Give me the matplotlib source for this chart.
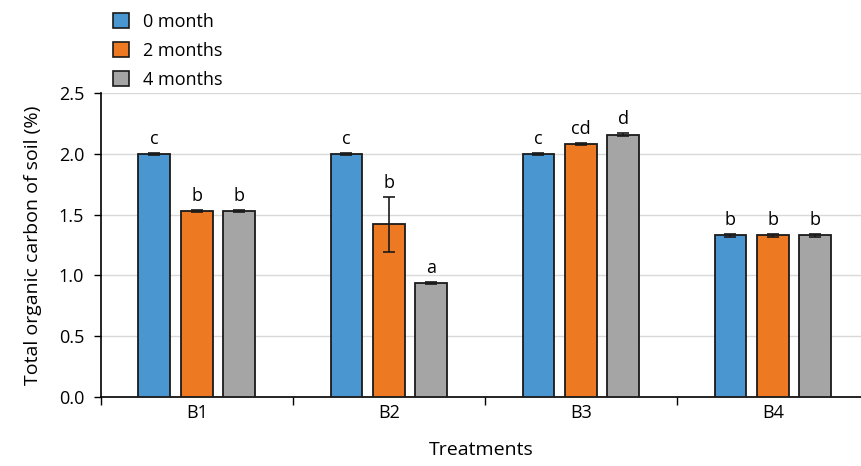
import numpy as np
import matplotlib.pyplot as plt
from matplotlib.patches import Patch

plt.rcParams['font.family'] = ['Open Sans', 'DejaVu Sans']

# Data
treatments = ['B1', 'B2', 'B3', 'B4']
periods = ['0 month', '2 months', '4 months']
toc = {
    '0 month':  [2.00, 2.00, 2.00, 1.33],
    '2 months': [1.53, 1.42, 2.08, 1.33],
    '4 months': [1.53, 0.94, 2.16, 1.33],
}
toc_err = {
    '0 month':  [0.01, 0.01, 0.01, 0.01],
    '2 months': [0.01, 0.23, 0.01, 0.01],
    '4 months': [0.01, 0.01, 0.01, 0.01],
}
letters = {
    '0 month':  ['c', 'c', 'c', 'b'],
    '2 months': ['b', 'b', 'cd', 'b'],
    '4 months': ['b', 'a', 'd', 'b'],
}
colors = ['#4A96D1', '#ED7A23', '#A5A5A5']

fig = plt.figure(figsize=(8.62, 4.66), dpi=100)
ax = fig.add_axes([0.117, 0.148, 0.883, 0.652])

x = np.arange(len(treatments))
width = 0.166
step = 0.221
for i, p in enumerate(periods):
    pos = x + (i - 1) * step
    ax.bar(pos, toc[p], width, color=colors[i], edgecolor='#1a1a1a',
           linewidth=1.3, zorder=3)
    ax.errorbar(pos, toc[p], yerr=toc_err[p], fmt='none', ecolor='#1a1a1a',
                elinewidth=1.2, capsize=4, capthick=1.2, zorder=4)
    for xp, v, e, lab in zip(pos, toc[p], toc_err[p], letters[p]):
        ax.text(xp, v + e + 0.04, lab, ha='center', va='bottom', fontsize=13)

ax.set_ylim(0, 2.5)
ax.set_yticks(np.arange(0, 2.51, 0.5))
ax.set_yticklabels([f'{v:.1f}' for v in np.arange(0, 2.51, 0.5)])
ax.set_xlim(-0.5, 3.464)
ax.set_xticks(np.arange(-0.5, 3.0, 1.0))
ax.set_xticklabels([])
ax.set_xticks(x, minor=True)
ax.set_xticklabels(treatments, minor=True)
ax.tick_params(axis='x', which='minor', length=0, pad=5, labelsize=13)
ax.tick_params(axis='x', which='major', length=6, width=1, direction='out')
ax.tick_params(axis='y', length=5, width=1, direction='out', pad=7, labelsize=13)

ax.grid(axis='y', color='#d9d9d9', linewidth=1, zorder=0)
ax.set_axisbelow(True)
for s in ['top', 'right']:
    ax.spines[s].set_visible(False)
ax.spines['left'].set_linewidth(1.2)
ax.spines['bottom'].set_linewidth(1.2)

ax.set_ylabel('Total organic carbon of soil (%)', fontsize=14, labelpad=12)
ax.set_xlabel('Treatments', fontsize=14, labelpad=14)

handles = [Patch(facecolor=c, edgecolor='#1a1a1a', linewidth=1.2) for c in colors]
fig.legend(handles, periods, loc='upper left', bbox_to_anchor=(0.118, 0.995),
           frameon=False, fontsize=13, handlelength=0.9, handleheight=0.9,
           labelspacing=0.6, handletextpad=0.8, borderaxespad=0.2)

fig.savefig('out.png', dpi=100)
